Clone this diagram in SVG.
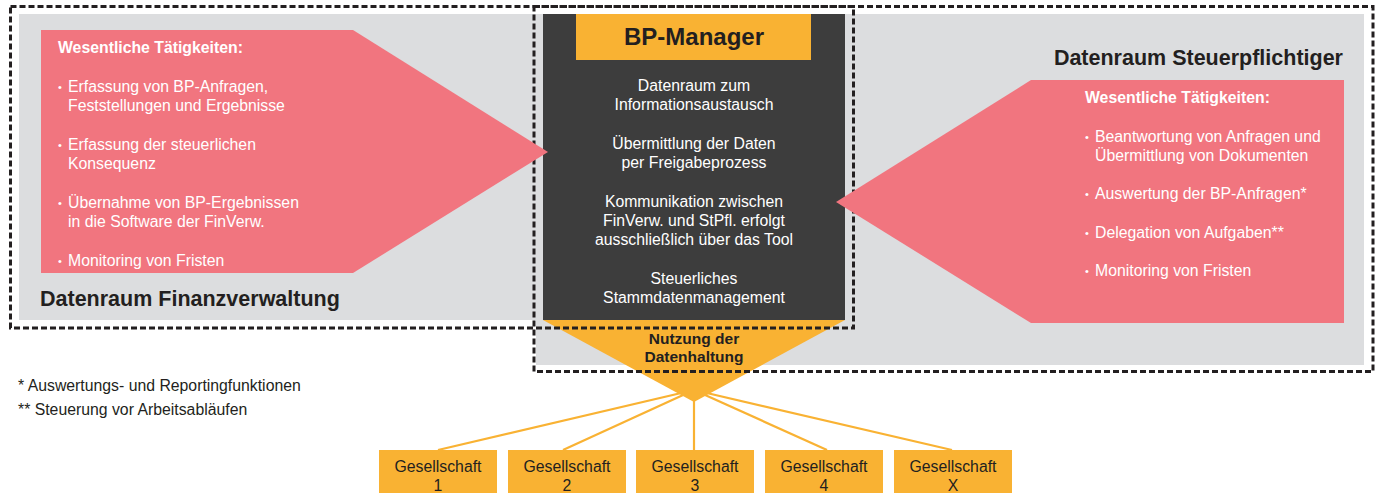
<svg xmlns="http://www.w3.org/2000/svg" width="1378" height="493" viewBox="0 0 1378 493">
  <style>
    text { font-family: "Liberation Sans", Arial, sans-serif; }
    .bg { fill: #DCDDDF; }
    .pink { fill: #F1757F; }
    .dark { fill: #3D3D3D; }
    .orange { fill: #F9B233; }
    .dash { fill: none; stroke: #231F20; stroke-width: 3; stroke-dasharray: 6 3; }
    .wt { fill: #FFFFFF; font-size: 15.8px; }
    .wh { fill: #FFFFFF; font-size: 15.8px; font-weight: bold; }
    .bul { fill: #FFFFFF; font-size: 11px; }
    .ct { fill: #FFFFFF; font-size: 15.8px; text-anchor: middle; }
    .label { fill: #231F20; font-size: 21.5px; font-weight: bold; }
    .dt { fill: #231F20; font-size: 15.8px; text-anchor: middle; }
    .db { fill: #231F20; font-size: 15.5px; font-weight: bold; text-anchor: middle; }
    .fn { fill: #231F20; font-size: 15.8px; }
    .conn { stroke: #F9B233; stroke-width: 2.2; fill: none; }
  </style>

  <!-- backgrounds -->
  <g id="backgrounds">
    <rect class="bg" x="19" y="14" width="526" height="306"/>
    <rect class="bg" x="536" y="14" width="828" height="351"/>
  </g>

  <!-- connectors -->
  <g id="connectors">
    <line class="conn" x1="694" y1="390" x2="438" y2="450"/>
    <line class="conn" x1="694" y1="390" x2="563" y2="450"/>
    <line class="conn" x1="694" y1="390" x2="694" y2="450"/>
    <line class="conn" x1="694" y1="390" x2="827" y2="450"/>
    <line class="conn" x1="694" y1="390" x2="952" y2="450"/>
  </g>

  <!-- BP-Manager -->
  <g id="bp-manager">
    <rect class="dark" x="543" y="14" width="302" height="306"/>
    <rect class="orange" x="576" y="14" width="235" height="46"/>
    <text x="694" y="45" text-anchor="middle" style="font-size:24px;font-weight:bold;fill:#231F20">BP-Manager</text>
    <text class="ct" x="694" y="91">Datenraum zum</text>
    <text class="ct" x="694" y="110">Informationsaustausch</text>
    <text class="ct" x="694" y="149">Übermittlung der Daten</text>
    <text class="ct" x="694" y="168">per Freigabeprozess</text>
    <text class="ct" x="694" y="207">Kommunikation zwischen</text>
    <text class="ct" x="694" y="226">FinVerw. und StPfl. erfolgt</text>
    <text class="ct" x="694" y="245">ausschließlich über das Tool</text>
    <text class="ct" x="694" y="284">Steuerliches</text>
    <text class="ct" x="694" y="303">Stammdatenmanagement</text>
  </g>

  <!-- Nutzung der Datenhaltung chevron -->
  <g id="datenhaltung">
    <polygon class="orange" points="543,320 845,320 694,402"/>
    <text class="db" x="694" y="344">Nutzung der</text>
    <text class="db" x="694" y="362">Datenhaltung</text>
  </g>

  <!-- dashed frames -->
  <g id="frames">
    <rect class="dash" x="10.5" y="6.5" width="843" height="321.5"/>
    <rect class="dash" x="534" y="6.5" width="839" height="365"/>
  </g>

  <!-- Datenraum Finanzverwaltung -->
  <g id="datenraum-finanzverwaltung">
    <polygon class="pink" points="41,30 353,30 548,152 353,273 41,273"/>
    <text class="wh" x="58" y="53">Wesentliche Tätigkeiten:</text>
    <text class="bul" x="58" y="91">•</text>
    <text class="wt" x="68" y="92">Erfassung von BP-Anfragen,</text>
    <text class="wt" x="68" y="111">Feststellungen und Ergebnisse</text>
    <text class="bul" x="58" y="149">•</text>
    <text class="wt" x="68" y="150">Erfassung der steuerlichen</text>
    <text class="wt" x="68" y="169">Konsequenz</text>
    <text class="bul" x="58" y="207">•</text>
    <text class="wt" x="68" y="208">Übernahme von BP-Ergebnissen</text>
    <text class="wt" x="68" y="227">in die Software der FinVerw.</text>
    <text class="bul" x="58" y="265">•</text>
    <text class="wt" x="68" y="266">Monitoring von Fristen</text>
    <text class="label" x="40" y="306">Datenraum Finanzverwaltung</text>
  </g>

  <!-- Datenraum Steuerpflichtiger -->
  <g id="datenraum-steuerpflichtiger">
    <text class="label" x="1343" y="65" text-anchor="end">Datenraum Steuerpflichtiger</text>
    <polygon class="pink" points="1031,80 1344,80 1344,323 1031,323 836,202"/>
    <text class="wh" x="1085" y="103">Wesentliche Tätigkeiten:</text>
    <text class="bul" x="1085" y="141">•</text>
    <text class="wt" x="1095" y="142">Beantwortung von Anfragen und</text>
    <text class="wt" x="1095" y="161">Übermittlung von Dokumenten</text>
    <text class="bul" x="1085" y="198">•</text>
    <text class="wt" x="1095" y="199">Auswertung der BP-Anfragen*</text>
    <text class="bul" x="1085" y="237">•</text>
    <text class="wt" x="1095" y="238">Delegation von Aufgaben**</text>
    <text class="bul" x="1085" y="275">•</text>
    <text class="wt" x="1095" y="276">Monitoring von Fristen</text>
  </g>

  <!-- Gesellschaften -->
  <g id="gesellschaft-1">
    <rect class="orange" x="379" y="450" width="118" height="43"/>
    <text class="dt" x="438" y="472">Gesellschaft</text>
    <text class="dt" x="438" y="491">1</text>
  </g>
  <g id="gesellschaft-2">
    <rect class="orange" x="508" y="450" width="118" height="43"/>
    <text class="dt" x="567" y="472">Gesellschaft</text>
    <text class="dt" x="567" y="491">2</text>
  </g>
  <g id="gesellschaft-3">
    <rect class="orange" x="636" y="450" width="118" height="43"/>
    <text class="dt" x="695" y="472">Gesellschaft</text>
    <text class="dt" x="695" y="491">3</text>
  </g>
  <g id="gesellschaft-4">
    <rect class="orange" x="765" y="450" width="118" height="43"/>
    <text class="dt" x="824" y="472">Gesellschaft</text>
    <text class="dt" x="824" y="491">4</text>
  </g>
  <g id="gesellschaft-x">
    <rect class="orange" x="894" y="450" width="118" height="43"/>
    <text class="dt" x="953" y="472">Gesellschaft</text>
    <text class="dt" x="953" y="491">X</text>
  </g>

  <!-- footnotes -->
  <g id="footnotes">
    <text class="fn" x="18" y="391">* Auswertungs- und Reportingfunktionen</text>
    <text class="fn" x="18" y="415">** Steuerung vor Arbeitsabläufen</text>
  </g>
</svg>
